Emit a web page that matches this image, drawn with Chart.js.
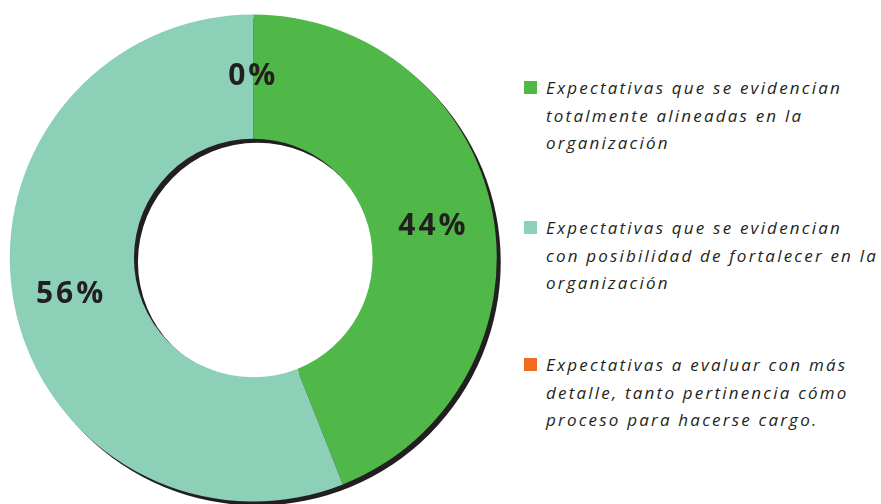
<!DOCTYPE html>
<html>
<head>
<meta charset="utf-8">
<script src="https://cdn.jsdelivr.net/npm/chart.js@4/dist/chart.umd.min.js"></script>
<style>
  body { margin: 0; background: #ffffff; width: 881px; height: 504px; overflow: hidden; position: relative; }
  .chart-box { position: absolute; left: 0; top: 0; width: 506px; height: 504px; }
  .legend { position: absolute; left: 524px; top: 0; width: 357px; font-family: "Open Sans", sans-serif; font-style: italic; font-size: 17px; color: #231f20; letter-spacing: 2.2px; }
  .legend .item { position: absolute; left: 0; width: 357px; line-height: 27.5px; white-space: nowrap; }
  .legend .swatch { position: absolute; left: 0; top: 7px; width: 13px; height: 13px; }
  .legend .text { margin-left: 22px; }
</style>
</head>
<body>
<div class="chart-box"><canvas id="donutChart"></canvas></div>
<div class="legend" id="legend"></div>
<script>
const categories = [
  'Expectativas que se evidencian totalmente alineadas en la organización',
  'Expectativas que se evidencian con posibilidad de fortalecer en la organización',
  'Expectativas a evaluar con más detalle, tanto pertinencia cómo proceso para hacerse cargo.'
];
const legendLines = [
  ['Expectativas que se evidencian', 'totalmente alineadas en la', 'organización'],
  ['Expectativas que se evidencian', 'con posibilidad de fortalecer en la', 'organización'],
  ['Expectativas a evaluar con más', 'detalle, tanto pertinencia cómo', 'proceso para hacerse cargo.']
];
const values = [44, 56, 0];
const colors = ['#50b848', '#8dd0b8', '#f26a22'];

// dark ring behind the doughnut, offset down-right like a drop shadow
const ringShadow = {
  id: 'ringShadow',
  beforeDatasetsDraw(chart) {
    const arc = chart.getDatasetMeta(0).data[0];
    if (!arc) return;
    const ctx = chart.ctx;
    const dx = 4, dy = 4;
    ctx.save();
    ctx.fillStyle = '#231f20';
    ctx.beginPath();
    ctx.arc(arc.x + dx, arc.y + dy, arc.outerRadius, 0, Math.PI * 2);
    ctx.arc(arc.x + dx, arc.y + dy, arc.innerRadius, 0, Math.PI * 2, true);
    ctx.fill();
    ctx.restore();
  }
};

// percentage labels in the middle of each slice
const labelNudge = [2, -4, 0];
const sliceLabels = {
  id: 'sliceLabels',
  afterDatasetsDraw(chart) {
    const ctx = chart.ctx;
    const meta = chart.getDatasetMeta(0);
    const total = values.reduce((a, b) => a + b, 0);
    ctx.save();
    ctx.font = 'bold 30px "Open Sans", sans-serif';
    ctx.letterSpacing = '3px';
    ctx.fillStyle = '#231f20';
    ctx.textAlign = 'center';
    ctx.textBaseline = 'middle';
    meta.data.forEach((el, i) => {
      const p = el.tooltipPosition();
      const dy = i === 2 ? 0 : 2;
      ctx.fillText(Math.round(values[i] / total * 100) + '%', p.x + labelNudge[i], p.y + dy);
    });
    ctx.restore();
  }
};

new Chart(document.getElementById('donutChart').getContext('2d'), {
  type: 'doughnut',
  data: {
    labels: categories,
    datasets: [{
      data: values,
      backgroundColor: colors,
      borderWidth: 0
    }]
  },
  options: {
    responsive: true,
    maintainAspectRatio: false,
    animation: false,
    cutout: '49%',
    layout: { padding: { left: 9.5, right: 9, top: 14.5, bottom: 2.5 } },
    plugins: {
      legend: { display: false },
      tooltip: { enabled: false }
    }
  },
  plugins: [ringShadow, sliceLabels]
});

const legendTops = [74, 214, 351];
const legendEl = document.getElementById('legend');
legendLines.forEach((lines, i) => {
  const item = document.createElement('div');
  item.className = 'item';
  item.style.top = legendTops[i] + 'px';
  item.innerHTML = `<span class="swatch" style="background:${colors[i]}"></span>
    <div class="text">${lines.join('<br>')}</div>`;
  legendEl.appendChild(item);
});
</script>
</body>
</html>
